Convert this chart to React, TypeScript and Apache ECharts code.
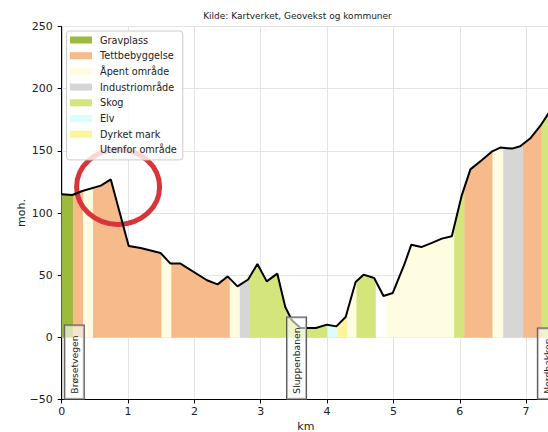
import React, { useEffect, useRef } from "react";
import * as echarts from "echarts";

// Elevation profile (km along route, metres above sea level)
const profileKm = [0, 0.16, 0.31, 0.59, 0.74, 1.01, 1.19, 1.49, 1.64, 1.79, 2.19, 2.35, 2.5, 2.65, 2.81, 2.95, 3.09, 3.25, 3.37, 3.47, 3.6, 3.83, 4.0, 4.14, 4.28, 4.43, 4.55, 4.71, 4.85, 4.99, 5.16, 5.27, 5.42, 5.58, 5.73, 5.88, 6.03, 6.16, 6.33, 6.49, 6.61, 6.79, 6.91, 7.06, 7.21, 7.36];
const profileM = [115, 114.5, 117.7, 122, 127, 73.4, 71.8, 67.8, 59.3, 59.3, 45.9, 42.6, 49, 41, 46.5, 59, 45, 51.2, 24.4, 13.7, 7.5, 7.5, 10.2, 8.8, 16.3, 44.5, 50.4, 47.7, 33.3, 35.7, 58, 74.5, 72.6, 76, 79.4, 81.3, 114.2, 135.1, 142.5, 149.6, 152.6, 151.8, 153.7, 159.9, 169.8, 182];

// Land use categories
const landTypes = ["Gravplass", "Tettbebyggelse", "Åpent område", "Industriområde", "Skog", "Elv", "Dyrket mark", "Utenfor område"];
const landColors = ["#9cba3c", "#f6ba8b", "#fefde2", "#d6d6d6", "#d4e57b", "#dbfdfd", "#fdf59b", "#ffffff"];

// Land use stretches [from km, to km] per category
const gravplassBands = [[0, 0.175]];
const tettBands = [[0.175, 0.326], [0.467, 1.508], [1.648, 2.537], [6.065, 6.498], [6.95, 7.236]];
const apentBands = [[0.326, 0.467], [1.508, 1.648], [2.537, 2.688], [4.297, 4.447], [4.889, 5.919], [6.498, 6.658]];
const industriBands = [[2.688, 2.83], [6.658, 6.95]];
const skogBands = [[2.83, 4.01], [4.447, 4.738], [5.919, 6.065], [7.236, 7.36]];
const elvBands = [[4.01, 4.155]];
const dyrketBands = [[4.155, 4.297]];
const utenforBands = [[4.738, 4.889]];
const bandsByType = [gravplassBands, tettBands, apentBands, industriBands, skogBands, elvBands, dyrketBands, utenforBands];

// Stops
const stopNames = ["Brøsetvegen", "Sluppenbanen", "Nordbakken"];
const stopKm = [0.19, 3.54, 7.32];

const titleText = "Kilde: Kartverket, Geovekst og kommuner";
const FONT = "DejaVu Sans";

function heightAt(x: number): number {
  for (let i = 0; i < profileKm.length - 1; i++) {
    const a = profileKm[i], b = profileKm[i + 1];
    if (x >= a && x <= b) {
      const t = b === a ? 0 : (x - a) / (b - a);
      return profileM[i] + t * (profileM[i + 1] - profileM[i]);
    }
  }
  return profileM[profileM.length - 1];
}

export default function App() {
  const ref = useRef<HTMLDivElement>(null);
  useEffect(() => {
    if (!ref.current) return;
    const chart = echarts.init(ref.current, null, { renderer: "svg" });

    const bandSeries = landTypes.map((name, ti) => ({
      name,
      type: "custom",
      z: 2,
      itemStyle: { color: landColors[ti] },
      encode: { x: [0, 1] },
      data: bandsByType[ti],
      renderItem: (params: any, api: any) => {
        const x0 = api.value(0);
        const x1 = api.value(1);
        const pts: number[][] = [[x0, 0], [x0, heightAt(x0)]];
        for (let i = 0; i < profileKm.length; i++) {
          if (profileKm[i] > x0 && profileKm[i] < x1) pts.push([profileKm[i], profileM[i]]);
        }
        pts.push([x1, heightAt(x1)], [x1, 0]);
        return {
          type: "polygon",
          shape: { points: pts.map((p) => api.coord(p)) },
          style: { fill: landColors[ti], stroke: landColors[ti], lineWidth: 0.5 },
        };
      },
    }));

    const option: any = {
      animation: false,
      textStyle: { fontFamily: FONT },
      grid: { left: 61.7, right: -2, top: 26.5, bottom: 32.5, outerBoundsMode: "none", containLabel: false, show: true, borderColor: "#000", borderWidth: 1, backgroundColor: "transparent" },
      legend: {
        orient: "vertical",
        left: 66.5,
        top: 31,
        itemWidth: 22,
        itemHeight: 7,
        itemGap: 1.7,
        padding: [2, 6, 3, 3.5],
        backgroundColor: "rgba(255,255,255,0.8)",
        borderColor: "#cccccc",
        borderWidth: 1,
        borderRadius: 3,
        icon: "rect",
        textStyle: { fontSize: 9.7, fontFamily: FONT, color: "#222", lineHeight: 14, padding: [0, 0, 0, 3] },
        data: landTypes,
        z: 4,
      },
      xAxis: {
        type: "value",
        min: 0,
        max: 7.36,
        interval: 1,
        name: "km",
        nameLocation: "middle",
        nameGap: 21.5,
        nameMoveOverlap: false,
        nameTextStyle: { fontSize: 11, color: "#222", fontFamily: FONT },
        axisLine: { show: true, onZero: false, lineStyle: { color: "#000", width: 1 } },
        axisTick: { show: true, length: 4, lineStyle: { color: "#000" } },
        axisLabel: { fontSize: 11, color: "#222", margin: 6, fontFamily: FONT, showMaxLabel: false, formatter: (v: number) => (Number.isInteger(v) ? String(v) : "") },
        splitLine: { show: true, lineStyle: { color: "#e3e3e3", width: 1 } },
      },
      yAxis: {
        type: "value",
        min: -50,
        max: 250,
        interval: 50,
        name: "moh.",
        nameLocation: "middle",
        nameGap: 35,
        nameMoveOverlap: false,
        nameTextStyle: { fontSize: 11, color: "#222", fontFamily: FONT },
        axisLine: { show: true, onZero: false, lineStyle: { color: "#000", width: 1 } },
        axisTick: { show: true, length: 4, lineStyle: { color: "#000" } },
        axisLabel: { fontSize: 11, color: "#222", margin: 9, fontFamily: FONT, formatter: (v: number) => (v < 0 ? "\u2212" + Math.abs(v) : String(v)) },
        splitLine: { show: true, lineStyle: { color: "#e3e3e3", width: 1 } },
      },
      series: [
        ...bandSeries,
        {
          name: "Høyde",
          type: "line",
          z: 3,
          data: profileKm.map((k, i) => [k, profileM[i]]),
          showSymbol: false,
          symbol: "none",
          lineStyle: { color: "#000", width: 2 },
          silent: true,
        },
        {
          name: "Stopp",
          type: "custom",
          z: 5,
          encode: { x: 0 },
          data: stopKm.map((k) => [k]),
          renderItem: (params: any, api: any) => {
            const p = api.coord([api.value(0), -49.3]);
            return {
              type: "text",
              x: p[0],
              y: p[1],
              rotation: Math.PI / 2,
              style: {
                text: stopNames[params.dataIndex],
                font: `9.2px ${FONT}`,
                fill: "#222",
                align: "left",
                verticalAlign: "middle",
                backgroundColor: "rgba(255,255,255,0.6)",
                borderColor: "#555",
                borderWidth: 1,
                padding: [5, 10, 5, 5],
              },
            };
          },
        },
      ],
    };
    chart.setOption(option);

    const c = chart.convertToPixel({ xAxisIndex: 0, yAxisIndex: 0 }, [0.85, 121]) as number[];
    chart.setOption({
      graphic: [
        {
          type: "ellipse",
          z: 3,
          shape: { cx: c[0], cy: c[1], rx: 41.5, ry: 37.5 },
          style: { fill: "none", stroke: "#d8353b", lineWidth: 5 },
        },
        {
          type: "text",
          x: 297.5,
          y: 16,
          style: { text: titleText, font: `9px ${FONT}`, fill: "#222", align: "center", verticalAlign: "middle" },
        },
      ],
    });

    return () => chart.dispose();
  }, []);
  return <div ref={ref} style={{ width: 548, height: 432, position: "absolute", left: 0, top: 0 }} />;
}
